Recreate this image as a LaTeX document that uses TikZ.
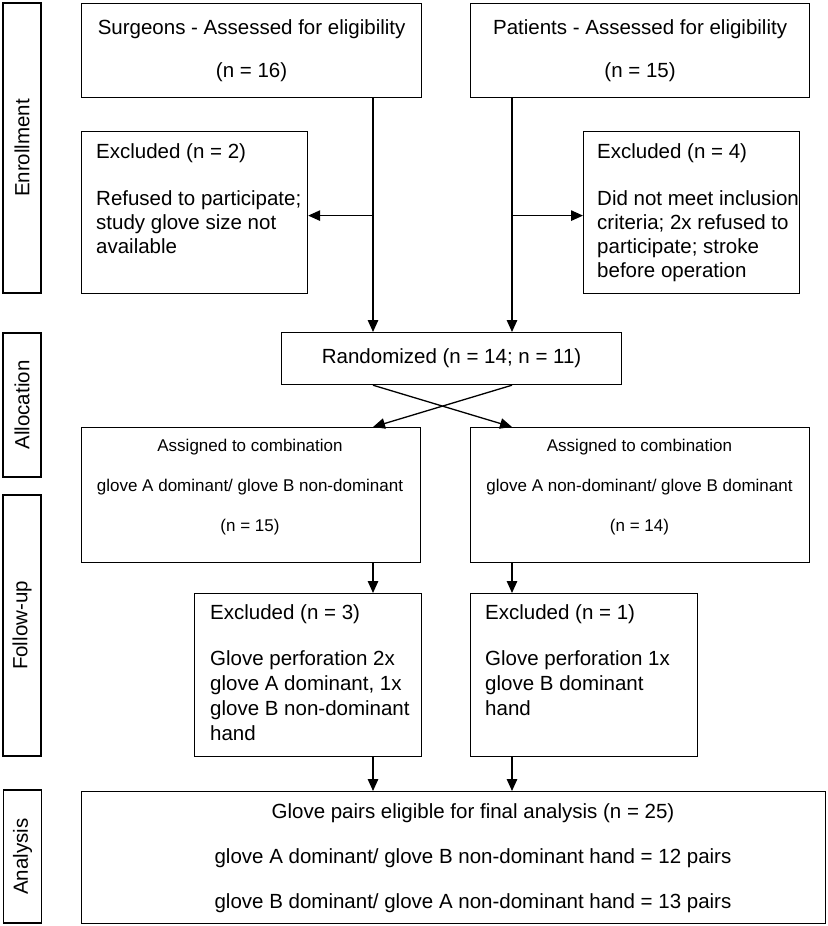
\documentclass[tikz,border=0pt]{standalone}
\usepackage{fontspec}
\setmainfont{Liberation Sans}
\usetikzlibrary{arrows.meta}

\newcommand{\mainsz}{\fontsize{20.5}{24}\selectfont}
\newcommand{\smallsz}{\fontsize{17}{20}\selectfont}

\tikzset{
  box/.style={draw, line width=1.2pt, anchor=north west, inner sep=0pt},
  side/.style={draw, line width=1.2pt, rotate=90, minimum height=38pt, inner sep=0pt, font=\mainsz},
  txt/.style={inner sep=0pt, font=\mainsz},
  arr/.style={line width=1.3pt, -{Triangle[length=12pt,width=10.5pt]}}
}

\begin{document}
\begin{tikzpicture}[x=1pt,y=-1pt]
\useasboundingbox (0,0) rectangle (827,926);

% stage labels
\node[side, minimum width=290pt] (enroll) at (22,148) {Enrollment};
\node[side, minimum width=144pt] (alloc) at (22,405) {Allocation};
\node[side, minimum width=261pt] (follow) at (22,625.5) {Follow-up};
\node[side, minimum width=133pt] (anal) at (22.5,856.5) {Analysis};

% enrollment
\node[box, minimum width=340pt, minimum height=94pt, align=center, font=\mainsz] (surg) at (81,3) {Surgeons - Assessed for eligibility\\[19pt](n = 16)};
\node[box, minimum width=339pt, minimum height=94pt, align=center, font=\mainsz] (pat) at (470,3) {Patients - Assessed for eligibility\\[19pt](n = 15)};
\node[box, minimum width=226pt, minimum height=162pt] (exL) at (81,131) {};
\node[txt, align=left, anchor=base west] (exLtxt) at (96,253) {Excluded (n = 2)\\[23pt]Refused to participate;\\study glove size not\\available};
\node[box, minimum width=216pt, minimum height=162pt] (exR) at (583,131) {};
\node[txt, align=left, anchor=base west] (exRtxt) at (597,277) {Excluded (n = 4)\\[23pt]Did not meet inclusion\\criteria; 2x refused to\\participate; stroke\\before operation};

% allocation
\node[box, minimum width=340pt, minimum height=52pt, font=\mainsz] (rand) at (281,332) {Randomized (n = 14; n = 11)};
\node[box, minimum width=339pt, minimum height=135pt] (asgL) at (81,427) {};
\node[txt, align=center, anchor=base, font=\smallsz] (asgLtxt) at (250,531) {Assigned to combination\\[20pt]glove A dominant/ glove B non-dominant\\[20pt](n = 15)};
\node[box, minimum width=339pt, minimum height=135pt] (asgR) at (470,427) {};
\node[txt, align=center, anchor=base, font=\smallsz] (asgRtxt) at (639.5,531) {Assigned to combination\\[20pt]glove A non-dominant/ glove B dominant\\[20pt](n = 14)};

% follow-up
\node[box, minimum width=227pt, minimum height=163pt] (fuL) at (194,593) {};
\node[txt, align=left, anchor=base west] (fuLtxt) at (210,740) {Excluded (n = 3)\\[22pt]Glove perforation 2x\\[0.7pt]glove A dominant, 1x\\[0.7pt]glove B non-dominant\\[0.7pt]hand};
\node[box, minimum width=227pt, minimum height=163pt] (fuR) at (470,593) {};
\node[txt, align=left, anchor=base west] (fuRtxt) at (485,715) {Excluded (n = 1)\\[22pt]Glove perforation 1x\\[0.7pt]glove B dominant\\[0.7pt]hand};

% analysis
\node[box, minimum width=744pt, minimum height=132pt] (ana) at (81,791) {};
\node[txt, align=center, anchor=base] (anatxt) at (473,908) {Glove pairs eligible for final analysis (n = 25)\\[21pt]glove A dominant/ glove B non-dominant hand = 12 pairs\\[21pt]glove B dominant/ glove A non-dominant hand = 13 pairs};

% connectors
\coordinate (cL) at (373,0);
\coordinate (cR) at (512,0);
\draw[arr] (surg.south -| cL) -- (rand.north -| cL);
\draw[arr] (pat.south -| cR) -- (rand.north -| cR);
\draw[arr] ([yshift=-3]exL.east -| cL) -- ([yshift=-3]exL.east);
\draw[arr] ([yshift=-3]exR.west -| cR) -- ([yshift=-3]exR.west);
\draw[arr] (rand.south -| cL) -- (asgR.north -| cR);
\draw[arr] (rand.south -| cR) -- (asgL.north -| cL);
\draw[arr] (asgL.south -| cL) -- (fuL.north -| cL);
\draw[arr] (asgR.south -| cR) -- (fuR.north -| cR);
\draw[arr] (fuL.south -| cL) -- (ana.north -| cL);
\draw[arr] (fuR.south -| cR) -- (ana.north -| cR);
\end{tikzpicture}
\end{document}
